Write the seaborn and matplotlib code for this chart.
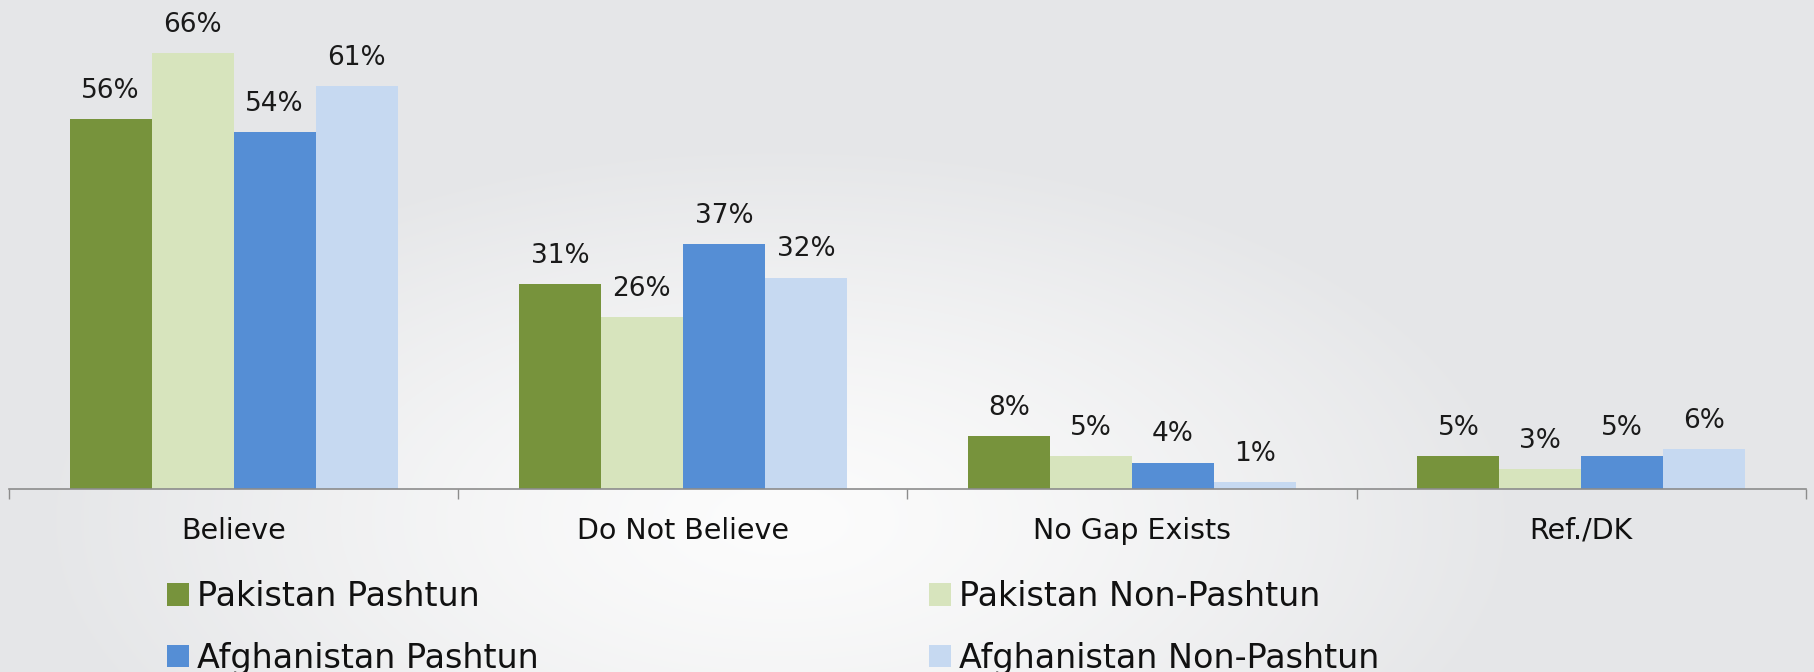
import numpy as np
import pandas as pd
import seaborn as sns
import matplotlib.pyplot as plt
from matplotlib.patches import Patch

# chart data
categories = ["Believe", "Do Not Believe", "No Gap Exists", "Ref./DK"]
groups = ["Pakistan Pashtun", "Pakistan Non-Pashtun", "Afghanistan Pashtun", "Afghanistan Non-Pashtun"]
pak_pashtun = [56, 31, 8, 5]
pak_non_pashtun = [66, 26, 5, 3]
afg_pashtun = [54, 37, 4, 5]
afg_non_pashtun = [61, 32, 1, 6]
colors = ["#77933C", "#D7E4BD", "#558ED5", "#C6D9F1"]

df = pd.DataFrame({
    "category": categories * 4,
    "group": [g for g in groups for _ in categories],
    "value": pak_pashtun + pak_non_pashtun + afg_pashtun + afg_non_pashtun,
})

sns.set_style("white")
plt.rcParams["font.family"] = ["DejaVu Sans"]

W, H = 1814, 672
fig = plt.figure(figsize=(W / 100, H / 100), dpi=100)

# soft grey background with a whitish glow in the middle
bg = fig.add_axes([0, 0, 1, 1], zorder=-10)
yy, xx = np.mgrid[0:H, 0:W]
r = np.sqrt(((xx - 780) / 750.0) ** 2 + ((yy - 520) / 380.0) ** 2)
t = np.clip(r, 0, 1) ** 1.3
c0 = np.array([252, 252, 252]) / 255.0
c1 = np.array([229, 230, 232]) / 255.0
img = c0[None, None, :] * (1 - t[..., None]) + c1[None, None, :] * t[..., None]
bg.imshow(img, aspect="auto", extent=[0, 1, 0, 1], origin="upper")
bg.axis("off")

ax = fig.add_axes([9 / W, 1 - 489 / H, 1797 / W, 489 / H])
ax.set_facecolor("none")

sns.barplot(data=df, x="category", y="value", hue="group", order=categories,
            hue_order=groups, palette=colors, width=0.73, linewidth=0,
            saturation=1, legend=False, ax=ax)

for cont in ax.containers:
    ax.bar_label(cont, fmt="%d%%", padding=11, fontsize=19, color="#1a1a1a")

ax.set_xlim(-0.5, 3.5)
ax.set_ylim(0, 74)
ax.set_xlabel("")
ax.set_ylabel("")
ax.set_yticks([])
for s in ["top", "left", "right"]:
    ax.spines[s].set_visible(False)
ax.spines["bottom"].set_color("#8c8c8c")
ax.spines["bottom"].set_linewidth(1.2)

# boundary ticks between categories
ax.set_xticks(np.arange(-0.5, 4.0, 1.0), minor=True)
ax.tick_params(axis="x", which="minor", bottom=True, length=7, width=1.0,
               color="#8c8c8c", direction="out")
ax.tick_params(axis="x", which="major", bottom=True, length=0, pad=20,
               labelsize=20.5, labelcolor="#111111")

handles = [Patch(facecolor=c, edgecolor="none") for c in colors]
leg_kw = dict(frameon=False, fontsize=24, handlelength=0.66, handleheight=0.66,
              handletextpad=0.25, labelspacing=0.86, borderpad=0, borderaxespad=0,
              loc="upper left", labelcolor="#111111")
fig.legend([handles[0], handles[2]], [groups[0], groups[2]],
           bbox_to_anchor=(167 / W, 1 - 580 / H), **leg_kw)
fig.legend([handles[1], handles[3]], [groups[1], groups[3]],
           bbox_to_anchor=(929 / W, 1 - 580 / H), **leg_kw)

fig.savefig("out.png", dpi=100)
